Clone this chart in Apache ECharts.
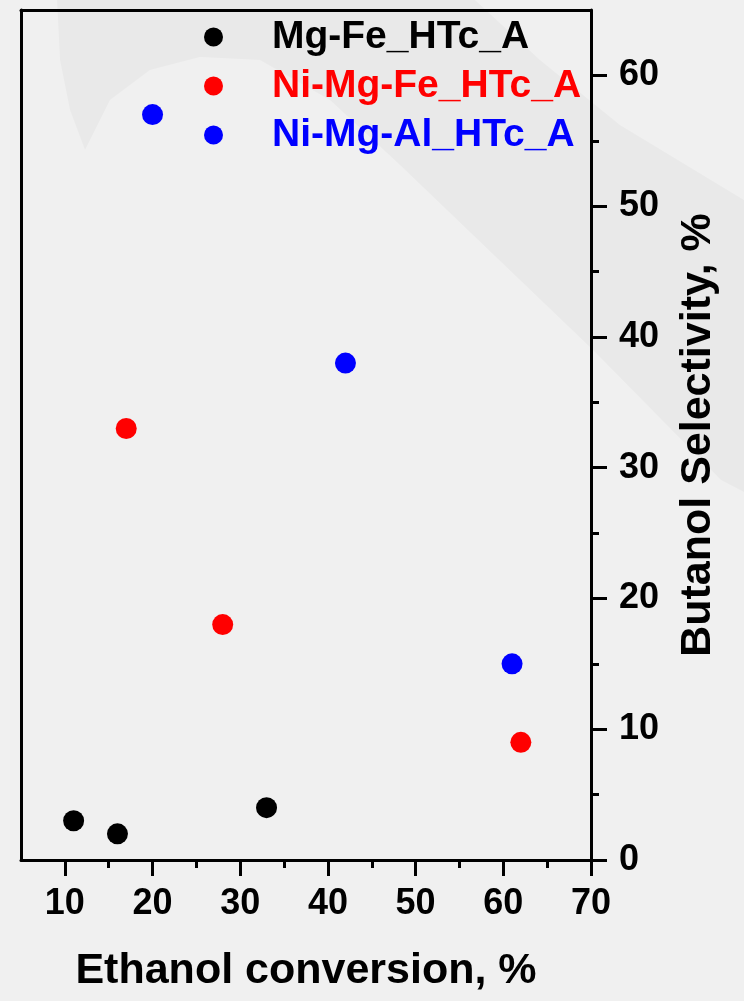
<!DOCTYPE html>
<html>
<head>
<meta charset="utf-8">
<script src="https://cdn.jsdelivr.net/npm/echarts@6/dist/echarts.min.js"></script>
<style>
  html, body { margin: 0; padding: 0; background: #f0f0f0; }
  #chart { width: 744px; height: 1001px; }
</style>
</head>
<body>
<div id="chart"></div>
<script>
var seriesNames = ['Mg-Fe_HTc_A', 'Ni-Mg-Fe_HTc_A', 'Ni-Mg-Al_HTc_A'];
var seriesColors = ['#000000', '#ff0000', '#0000ff'];
// ethanol conversion (%) / butanol selectivity (%)
var mgFeX = [11, 16, 33];
var mgFeY = [3, 2, 4];
var niMgFeX = [17, 28, 62];
var niMgFeY = [33, 18, 9];
var niMgAlX = [20, 42, 61];
var niMgAlY = [57, 38, 15];
var xTicks = [10, 20, 30, 40, 50, 60, 70];
var yTicks = [0, 10, 20, 30, 40, 50, 60];

var font = '"Liberation Sans", Arial, sans-serif';

function pairs(xs, ys) {
	var out = [];
	for (var i = 0; i < xs.length; i++) {
		out.push([xs[i], ys[i]]);
	}
	return out;
}

var allData = [pairs(mgFeX, mgFeY), pairs(niMgFeX, niMgFeY), pairs(niMgAlX, niMgAlY)];

var series = [];
var legendData = [];
for (var i = 0; i < seriesNames.length; i++) {
	series.push({
		name: seriesNames[i],
		type: 'scatter',
		symbol: 'circle',
		symbolSize: 21,
		itemStyle: { color: seriesColors[i], opacity: 1 },
		data: allData[i]
	});
	legendData.push({ name: seriesNames[i], textStyle: { color: seriesColors[i] } });
}

var myChart = echarts.init(document.getElementById('chart'));
var option = {
	backgroundColor: '#f0f0f0',
	animation: false,
	textStyle: { fontFamily: font },
	graphic: [{
		// faint background swoosh
		type: 'polygon',
		z: -10,
		silent: true,
		shape: {
			points: [[57, 0], [60, 60], [70, 110], [85, 150], [110, 100], [150, 70], [200, 57], [260, 60],
				[330, 100], [400, 165], [593, 350], [721, 480], [744, 492], [744, 200], [620, 125], [540, 60], [475, 0]]
		},
		style: { fill: 'rgba(0,0,0,0.028)' }
	}],
	legend: {
		orient: 'vertical',
		left: 204,
		top: 16,
		padding: 0,
		itemWidth: 19,
		itemHeight: 19,
		itemGap: 7,
		icon: 'circle',
		textStyle: {
			fontFamily: font,
			fontWeight: 'bold',
			fontSize: 39,
			lineHeight: 42,
			padding: [0, 0, 0, 44]
		},
		data: legendData
	},
	grid: { left: 21, right: 153, top: 10, bottom: 141, containLabel: false },
	xAxis: [{
		type: 'value',
		position: 'bottom',
		min: 5,
		max: 70,
		name: 'Ethanol conversion, %',
		nameLocation: 'middle',
		nameGap: 90,
		nameTextStyle: { fontFamily: font, fontWeight: 'bold', fontSize: 43, color: '#000' },
		axisLine: { show: true, lineStyle: { color: '#000', width: 3 } },
		axisTick: { show: true, inside: false, length: 16, lineStyle: { color: '#000', width: 3 }, customValues: xTicks },
		minorTick: { show: true, splitNumber: 2, length: 8, lineStyle: { color: '#000', width: 3 } },
		axisLabel: { margin: 26, fontFamily: font, fontWeight: 'bold', fontSize: 36, color: '#000', customValues: xTicks },
		splitLine: { show: false }
	}, {
		type: 'value',
		position: 'top',
		min: 5,
		max: 70,
		axisLine: { show: true, onZero: false, lineStyle: { color: '#000', width: 3 } },
		axisTick: { show: false },
		axisLabel: { show: false },
		splitLine: { show: false }
	}],
	yAxis: [{
		type: 'value',
		position: 'right',
		min: 0,
		max: 65,
		name: 'Butanol Selectivity, %',
		nameLocation: 'middle',
		nameRotate: 90,
		nameGap: 86,
		nameTextStyle: { fontFamily: font, fontWeight: 'bold', fontSize: 43, color: '#000' },
		axisLine: { show: true, onZero: false, lineStyle: { color: '#000', width: 3 } },
		axisTick: { show: true, inside: false, length: 16, lineStyle: { color: '#000', width: 3 }, customValues: yTicks },
		minorTick: { show: true, splitNumber: 2, length: 8, lineStyle: { color: '#000', width: 3 } },
		axisLabel: { margin: 28, fontFamily: font, fontWeight: 'bold', fontSize: 36, color: '#000', customValues: yTicks },
		splitLine: { show: false }
	}, {
		type: 'value',
		position: 'left',
		min: 0,
		max: 65,
		axisLine: { show: true, onZero: false, lineStyle: { color: '#000', width: 3 } },
		axisTick: { show: false },
		axisLabel: { show: false },
		splitLine: { show: false }
	}],
	series: series
};
myChart.setOption(option);
</script>
</body>
</html>
